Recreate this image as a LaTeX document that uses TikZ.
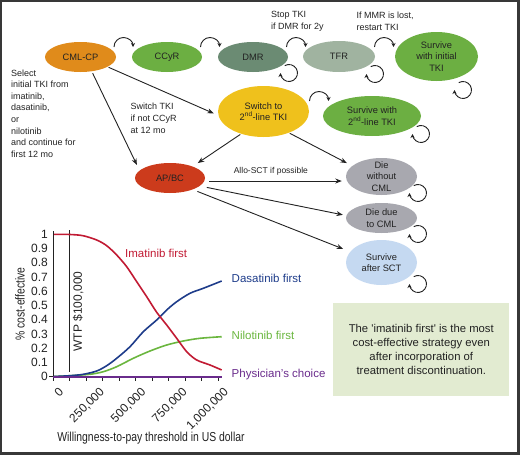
\documentclass[tikz,border=0pt]{standalone}
\usepackage{fontspec}
\setmainfont{Liberation Sans}
\usetikzlibrary{shapes.geometric,arrows.meta}
\definecolor{cOrange}{HTML}{E08B1B}
\definecolor{cGreen}{HTML}{6CAF42}
\definecolor{cDMR}{HTML}{6B8B73}
\definecolor{cTFR}{HTML}{A0B3A0}
\definecolor{cYellow}{HTML}{EFC11C}
\definecolor{cRed}{HTML}{CC3B1C}
\definecolor{cGray}{HTML}{A8A8AF}
\definecolor{cLBlue}{HTML}{C5D9F1}
\definecolor{cBox}{HTML}{E2EBD1}
\definecolor{cImat}{HTML}{C11A33}
\definecolor{cDasa}{HTML}{1E3C8A}
\definecolor{cNilo}{HTML}{6AB63E}
\definecolor{cPhys}{HTML}{6A2C8C}
\definecolor{cTxt}{HTML}{222222}
\begin{document}
\begin{tikzpicture}[x=1pt,y=-1pt,
  st/.style={ellipse, inner sep=0pt, align=center, text=cTxt, font=\fontsize{9.3}{11.6}\selectfont},
  txt/.style={inner sep=0pt, align=left, text=cTxt, font=\fontsize{9}{11.6}\selectfont},
  ctxt/.style={inner sep=0pt, font=\fontsize{11.5}{13}\selectfont},
  tick/.style={inner sep=0pt, text=cTxt, font=\fontsize{12}{12}\selectfont},
  arr/.style={-{Stealth[length=6.5pt,width=5pt]}, line width=0.9pt, draw=cTxt},
  arcarr/.style={-{Stealth[length=4pt,width=4pt]}, line width=0.9pt, draw=cTxt},
  axis/.style={line width=1pt, draw=cTxt}]
\useasboundingbox (0,0) rectangle (520,455);
\draw[line width=2.4pt, draw=black!78] (1.2,1.2) rectangle (518.4,453.4);

% state nodes
\node[st, fill=cOrange, minimum width=71pt, minimum height=30pt] (cml) at (80.5,57) {CML-CP};
\node[st, fill=cGreen, minimum width=70pt, minimum height=30pt] (ccyr) at (167,57) {CCyR};
\node[st, fill=cDMR, minimum width=70pt, minimum height=30pt] (dmr) at (253,57) {DMR};
\node[st, fill=cTFR, minimum width=72pt, minimum height=31pt] (tfr) at (339,56.5) {TFR};
\node[st, fill=cGreen, minimum width=83pt, minimum height=49pt] (survI) at (436.5,56.5) {Survive\\with initial\\TKI};
\node[st, fill=cYellow, minimum width=91pt, minimum height=51pt] (switch) at (263.5,111.5) {Switch to\\2\textsuperscript{nd}-line TKI};
\node[st, fill=cGreen, minimum width=98pt, minimum height=40pt] (surv2) at (372,116) {Survive with\\2\textsuperscript{nd}-line TKI};
\node[st, fill=cRed, minimum width=70pt, minimum height=30pt] (apbc) at (170,178) {AP/BC};
\node[st, fill=cGray, minimum width=71pt, minimum height=37pt, inner ysep=-4pt] (diewo) at (381.5,176.5) {Die\\without\\CML};
\node[st, fill=cGray, minimum width=71pt, minimum height=30pt, inner ysep=-2pt] (diedue) at (381.5,218) {Die due\\to CML};
\node[st, fill=cLBlue, minimum width=71pt, minimum height=45pt] (survsct) at (381.5,262.5) {Survive\\after SCT};

% free texts
\node[txt, anchor=west] (select) at (11,113.5) {Select\\initial TKI from\\imatinib,\\dasatinib,\\or\\nilotinib\\and continue for\\first 12 mo};
\node[txt, anchor=west] (swlab) at (130.5,118.3) {Switch TKI\\if not CCyR\\at 12 mo};
\node[txt, anchor=west] (stoplab) at (271,21) {Stop TKI\\if DMR for 2y};
\node[txt, anchor=west] (mmrlab) at (356.5,21) {If MMR is lost,\\restart TKI};

% connectors
\draw[arr, shorten <=1pt, shorten >=5pt] (cml.-20) -- (switch.185);
\draw[arr, shorten <=2pt, shorten >=6pt] (cml.-52) -- (apbc.166);
\draw[arr, shorten <=1pt, shorten >=6pt] (switch.225) -- (apbc.27);
\draw[arr, shorten <=1pt, shorten >=6pt] (switch.-40) -- (diewo.160);
\draw[arr, shorten <=5pt, shorten >=4pt] (apbc.-5) -- (apbc.-5 -| diewo.west)
  node[pos=0.47, above=5pt, inner sep=0pt, text=cTxt, font=\fontsize{8.5}{10}\selectfont] (allo) {Allo-SCT if possible};
\draw[arr, shorten <=7pt, shorten >=3.5pt] (apbc.-15) -- (diedue.176);
\draw[arr, shorten <=5pt, shorten >=7.5pt] (apbc.-27) -- (survsct.161);

% transition arcs
\foreach \cx/\cy in {123.5/47, 210/47, 296/47, 384/47, 319/101}
  \draw[arcarr] (\cx-9.5,\cy) arc[start angle=180, end angle=0, radius=9.5pt];
% self loops
\foreach \cx/\cy in {289/73, 375/74, 463/90, 421/134, 418/193, 418/234, 418/284}
  \draw[arcarr] (\cx-4.25,\cy-7.36) arc[start angle=120, end angle=-180, radius=8.5pt];

% chart axes
\draw[axis] (53,231) -- (53,378);
\draw[axis] (49,376.7) -- (222,376.7);
\foreach \i in {0,...,10} \draw[axis] ({53+16.53*\i},376.7) -- ++(0,4);
\foreach \v/\l in {0/0,1/0.1,2/0.2,3/0.3,4/0.4,5/0.5,6/0.6,7/0.7,8/0.8,9/0.9,10/1}
  \node[tick, anchor=east] at (48,{376.7-14.25*\v}) {\l};
\foreach \k/\l in {0/0,2.5/{250,000},5/{500,000},7.5/{750,000},10/{1,000,000}}
  \node[tick, anchor=east, rotate=45] at ({53+16.53*\k+8.3},390) {\l};
\node[inner sep=0pt, rotate=90, text=cTxt, font=\fontsize{13}{13}\selectfont] (ylab) at (20,304) {\scalebox{0.8}[1]{\% cost-effective}};
\node[inner sep=0pt, text=cTxt, font=\fontsize{13}{13}\selectfont] (xlab) at (151,438) {\scalebox{0.8}[1]{Willingness-to-pay threshold in US dollar}};

% WTP line
\draw[line width=1pt, draw=cTxt] (69.3,230) -- (69.3,371.7);
\node[inner sep=0pt, rotate=90, text=cTxt, font=\fontsize{12}{12}\selectfont] (wtp) at (78.3,311.5) {WTP \$100,000};

% curves
\draw[cNilo, line width=1.6pt] plot[smooth, tension=0.5] coordinates {(54,376.5) (70,375.7) (90,374.3) (103.3,371.7) (116.7,366.7) (133.3,358.3) (150,351) (166.7,345) (183.3,341) (200,338.3) (221.7,336.7)};
\draw[cDasa, line width=1.6pt] plot[smooth, tension=0.5] coordinates {(54,376.5) (70,375.7) (83.3,374.3) (96.7,371) (106.7,365.7) (116.7,358.3) (130,346.7) (143.3,331.7) (156.7,320) (166.7,310) (176.7,301.7) (190,293.3) (203.3,288.3) (221.7,281)};
\draw[cImat, line width=1.6pt] plot[smooth, tension=0.5] coordinates {(54,234.3) (70,234.5) (83,235.7) (96.7,240) (106.7,245.7) (116.7,255) (126.7,266.7) (136.7,281.7) (146.7,296.7) (156.7,312.3) (166.7,325) (176.7,338.3) (186.7,351.7) (196.7,360) (210,365) (221.7,370)};
\draw[cPhys, line width=1.8pt] (53,376.7) -- (221.7,376.7);

% chart labels
\node[ctxt, anchor=west, text=cImat] (limat) at (125,253) {Imatinib first};
\node[ctxt, anchor=west, text=cDasa] (ldasa) at (231.5,278.3) {Dasatinib first};
\node[ctxt, anchor=west, text=cNilo] (lnilo) at (231.5,335) {Nilotinib first};
\node[ctxt, anchor=west, text=cPhys] (lphys) at (231.5,374.5) {Physician's choice};

% summary box
\node[fill=cBox, minimum width=176pt, minimum height=92.4pt, inner sep=0pt, align=center, text=cTxt, font=\fontsize{11.3}{14.1}\selectfont] (box) at (421.3,349.5) {The \textquotesingle imatinib first\textquotesingle\ is the most\\cost-effective strategy even\\after incorporation of\\treatment discontinuation.};
\end{tikzpicture}
\end{document}
